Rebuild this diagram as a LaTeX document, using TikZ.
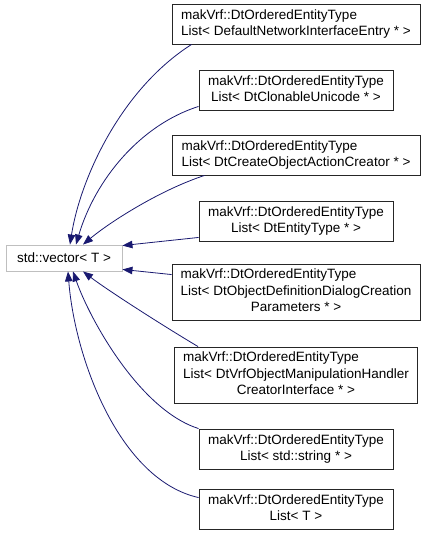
\documentclass[tikz,border=0pt]{standalone}
\usepackage{fontspec}
\setmainfont{Liberation Sans}
\usetikzlibrary{arrows.meta}
\definecolor{edgeblue}{HTML}{191970}
\definecolor{vecgray}{HTML}{BFBFBF}
\newcommand{\twoline}[2]{\begin{tabular}{@{}l@{}}#1\\\multicolumn{1}{@{}c@{}}{#2}\end{tabular}}
\newcommand{\threeline}[3]{\begin{tabular}{@{}l@{}}#1\\#2\\\multicolumn{1}{@{}c@{}}{#3}\end{tabular}}
\begin{document}
\begin{tikzpicture}[x=1pt,y=-1pt,
  every node/.style={font=\fontsize{13.5}{16.5}\selectfont, inner sep=0pt},
  cls/.style={draw=black!85, fill=white, line width=0.9pt, minimum height=40pt},
  widebox/.style={cls, minimum width=248pt},
  narrowbox/.style={cls, minimum width=194pt},
  tallbox/.style={cls, minimum width=#1, minimum height=56pt},
  basebox/.style={draw=vecgray, fill=white, line width=0.9pt, minimum width=116pt, minimum height=26pt},
  inherit/.style={draw=edgeblue, line width=0.8pt, -{Triangle[length=10pt,width=7.5pt]}}
]
\useasboundingbox (0,0) rectangle (427,539);

\node[basebox] (v) at (64,258) {std::vector< T >};

\node[widebox] (b1) at (296,24) {\twoline{makVrf::DtOrderedEntityType}{List< DefaultNetworkInterfaceEntry * >}};
\node[narrowbox] (b2) at (296,90) {\twoline{makVrf::DtOrderedEntityType}{List< DtClonableUnicode * >}};
\node[widebox] (b3) at (296,155) {\twoline{makVrf::DtOrderedEntityType}{List< DtCreateObjectActionCreator * >}};
\node[narrowbox] (b4) at (296,221) {\twoline{makVrf::DtOrderedEntityType}{List< DtEntityType * >}};
\node[tallbox=248pt] (b5) at (296,292) {\threeline{makVrf::DtOrderedEntityType}{List< DtObjectDefinitionDialogCreation}{Parameters * >}};
\node[tallbox=243pt] (b6) at (296,375) {\threeline{makVrf::DtOrderedEntityType}{List< DtVrfObjectManipulationHandler}{CreatorInterface * >}};
\node[narrowbox] (b7) at (296,449) {\twoline{makVrf::DtOrderedEntityType}{List< std::string * >}};
\node[narrowbox] (b8) at (296,509) {\twoline{makVrf::DtOrderedEntityType}{List< T >}};

\draw[inherit] ([xshift=20pt]b1.south west) .. controls (120,90) and (80,180) .. ([xshift=6pt]v.north);
\draw[inherit] ([yshift=4pt]b2.south west) .. controls (140,125) and (95,180) .. ([xshift=12pt]v.north);
\draw[inherit] ([xshift=33pt]b3.south west) .. controls (160,190) and (110,222) .. ([xshift=19pt]v.north);
\draw[inherit] ([yshift=4pt]b4.south west) -- ([yshift=-1pt]v.north east);
\draw[inherit] ([yshift=-11pt]b5.north west) -- ([yshift=2pt]v.south east);
\draw[inherit] ([xshift=24pt]b6.north west) .. controls (170,330) and (110,292) .. ([xshift=19pt]v.south);
\draw[inherit] (b7.north west) .. controls (140,410) and (90,320) .. ([xshift=9pt]v.south);
\draw[inherit] ([yshift=-9pt]b8.north west) .. controls (120,480) and (75,360) .. ([xshift=4pt]v.south);
\end{tikzpicture}
\end{document}
